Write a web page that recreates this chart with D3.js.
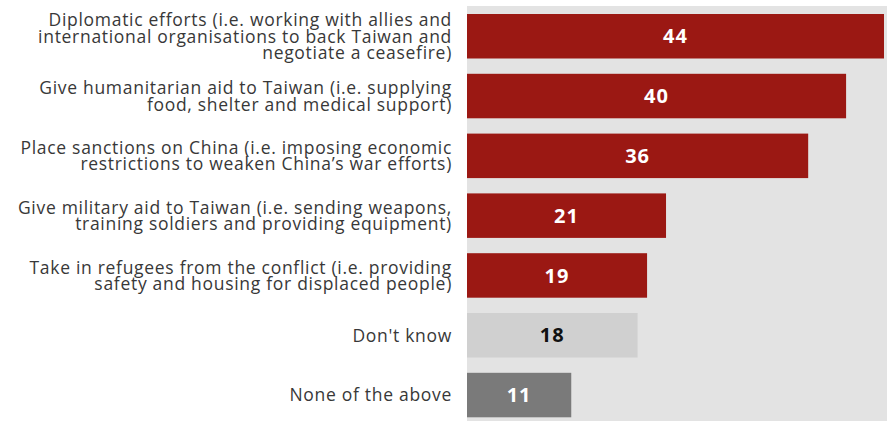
<!DOCTYPE html>
<html>
<head>
<meta charset="utf-8">
<script src="https://cdn.jsdelivr.net/npm/d3@7"></script>
<style>
  html, body { margin: 0; padding: 0; background: #ffffff; }
  svg { display: block; }
</style>
</head>
<body>
<div id="chart"></div>
<script>
// Survey responses: what the country should do, % choosing each option
const categories = [
  ["Diplomatic efforts (i.e. working with allies and", "international organisations to back Taiwan and", "negotiate a ceasefire)"],
  ["Give humanitarian aid to Taiwan (i.e. supplying", "food, shelter and medical support)"],
  ["Place sanctions on China (i.e. imposing economic", "restrictions to weaken China\u2019s war efforts)"],
  ["Give military aid to Taiwan (i.e. sending weapons,", "training soldiers and providing equipment)"],
  ["Take in refugees from the conflict (i.e. providing", "safety and housing for displaced people)"],
  ["Don't know"],
  ["None of the above"]
];
const values = [44, 40, 36, 21, 19, 18, 11];
const kinds = ["option", "option", "option", "option", "option", "dontknow", "none"];

const width = 887, height = 421;
const barFill = { option: "#9b1813", dontknow: "#d0d0d0", none: "#7a7a7a" };
const textFill = { option: "#ffffff", dontknow: "#111111", none: "#ffffff" };

const svg = d3.select("#chart").append("svg")
  .attr("width", width).attr("height", height);

const x = d3.scaleLinear().domain([0, 44]).range([467, 884]);
const y = d3.scaleBand().domain(d3.range(values.length))
  .range([14, 417.3]).paddingInner(0.256).paddingOuter(0);

// grey panel behind the bars
svg.append("rect")
  .attr("x", x(0)).attr("y", 6)
  .attr("width", width - x(0)).attr("height", height - 6)
  .attr("fill", "#e3e3e3");

const rows = svg.selectAll("g.row").data(values).join("g").attr("class", "row");

rows.append("rect")
  .attr("x", x(0))
  .attr("y", (d, i) => y(i))
  .attr("width", d => x(d) - x(0))
  .attr("height", y.bandwidth())
  .attr("fill", (d, i) => barFill[kinds[i]]);

rows.append("text")
  .attr("x", d => (x(0) + x(d)) / 2)
  .attr("y", (d, i) => y(i) + y.bandwidth() / 2)
  .attr("dy", "0.36em")
  .attr("text-anchor", "middle")
  .attr("font-family", "'Open Sans', Roboto, sans-serif")
  .attr("font-weight", 700)
  .attr("font-size", 20)
  .attr("letter-spacing", 1)
  .attr("fill", (d, i) => textFill[kinds[i]])
  .text(d => d);

// multi-line category labels, right aligned, block centred on each bar
const lineH = 16.5, capH = 12.6;
const labels = svg.append("g")
  .attr("font-family", "'Open Sans', 'Noto Sans', sans-serif")
  .attr("font-size", 17.5)
  .attr("letter-spacing", 0.7)
  .attr("fill", "#383838")
  .attr("text-anchor", "end");

categories.forEach((lines, i) => {
  const cy = y(i) + y.bandwidth() / 2;
  const top = cy - ((lines.length - 1) * lineH + capH) / 2 + capH;
  const t = labels.append("text").attr("x", 452);
  lines.forEach((ln, j) => {
    t.append("tspan").attr("x", 452).attr("y", top + j * lineH).text(ln);
  });
});
</script>
</body>
</html>
